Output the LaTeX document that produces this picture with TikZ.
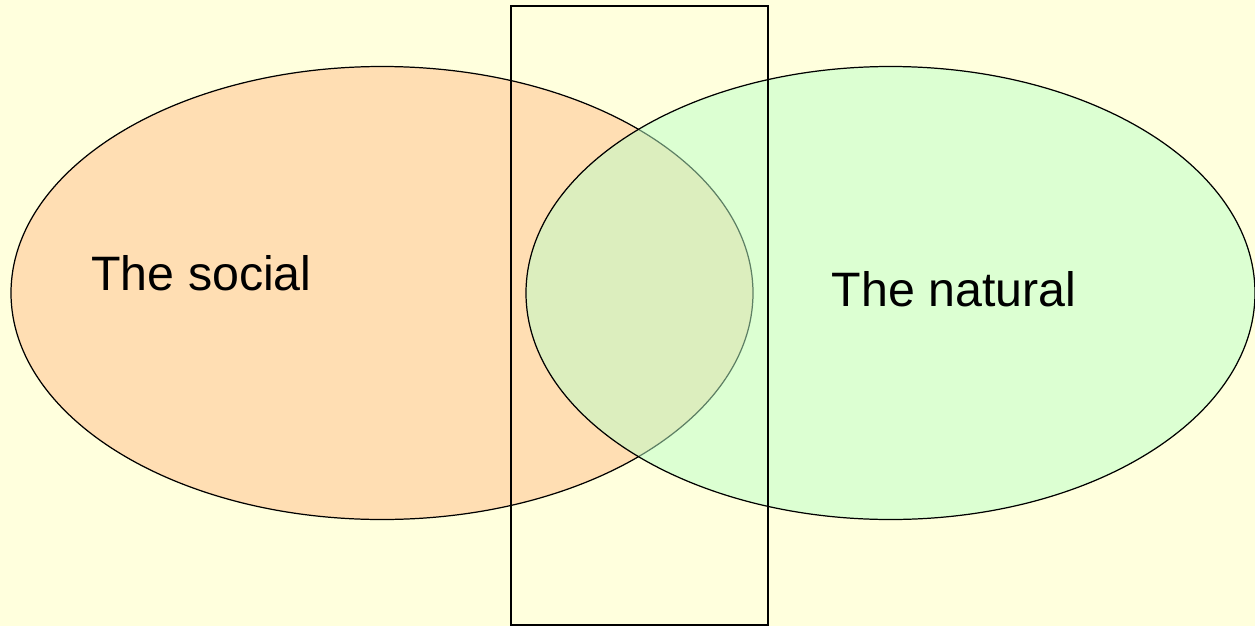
\documentclass[tikz,border=0pt]{standalone}
\usepackage{fontspec}
\setmainfont{Liberation Sans}
\usetikzlibrary{shapes.geometric}
\definecolor{bgyellow}{RGB}{255,255,221}
\definecolor{socialfill}{RGB}{255,222,179}
\definecolor{naturalfill}{RGB}{187,255,201}
\begin{document}
\begin{tikzpicture}[font=\fontsize{27.5}{33}\selectfont]
\tikzstyle{blob}=[ellipse,draw,line width=0.7pt,inner sep=0pt,minimum height=9.06cm]
\fill[bgyellow] (0,0) rectangle (25.1,-12.52);
\useasboundingbox (0,0) rectangle (25.1,-12.52);
\node[blob,fill=socialfill,minimum width=14.84cm] (soc) at (7.64,-5.86) {};
\node[blob,fill=naturalfill,fill opacity=0.5,minimum width=14.58cm] (nat) at (17.81,-5.86) {};
\node (tsoc) at (4.03,-5.46) {The social};
\node (tnat) at (19.08,-5.78) {The natural};
\node[draw,line width=0.7pt,inner sep=0pt,minimum width=5.14cm,minimum height=12.38cm] (mid) at (12.79,-6.31) {};
\end{tikzpicture}
\end{document}
